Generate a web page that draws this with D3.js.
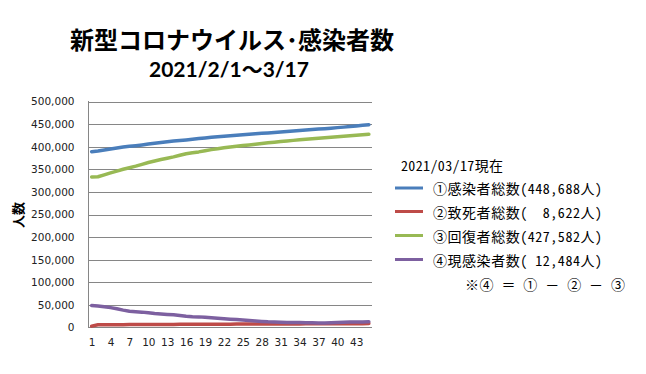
<!DOCTYPE html>
<html><head><meta charset="utf-8">
<script src="https://cdn.jsdelivr.net/npm/d3@7"></script>
<style>body{margin:0;background:#fff}</style>
</head><body><svg id="c" width="646" height="374"></svg>
<script>
const titleLine1 = "新型コロナウイルス･感染者数";
const titleLine2 = "2021/2/1～3/17";
const yAxisTitle = "人数";
const categories = [1,2,3,4,5,6,7,8,9,10,11,12,13,14,15,16,17,18,19,20,21,22,23,24,25,26,27,28,29,30,31,32,33,34,35,36,37,38,39,40,41,42,43,44,45];
const xTickLabels = [1,4,7,10,13,16,19,22,25,28,31,34,37,40,43];
const yTicks = [0,50000,100000,150000,200000,250000,300000,350000,400000,450000,500000];
const seriesNames = ["①感染者総数(448,688人)", "②致死者総数(  8,622人)", "③回復者総数(427,582人)", "④現感染者数( 12,484人)"];
const seriesColors = ["#4A7EBB", "#BE4B48", "#98B954", "#7D60A0"];
const totalCases = [389000,390500,392600,394900,397100,399100,400800,402300,404000,405800,407500,409300,411000,412400,413600,415000,416600,418000,419400,420800,422100,423200,424100,425300,426500,427600,428700,429600,430400,431300,432400,433500,434600,435800,437000,438000,438900,439900,441000,442200,443300,444600,446000,447400,448688];
const deaths = [3000,5900,6000,6100,6200,6290,6380,6470,6550,6620,6700,6770,6840,6910,6980,7050,7110,7170,7230,7290,7340,7390,7440,7490,7540,7590,7640,7690,7740,7790,7840,7890,7940,7990,8040,8090,8140,8190,8240,8290,8340,8400,8460,8540,8622];
const recovered = [333000,333600,337800,342000,346000,350000,353500,357000,361000,365000,368500,371500,374500,377500,381000,384500,386500,388500,391000,393500,395500,397500,399500,401000,402500,404000,405500,407000,408500,410000,411500,412800,414000,415200,416400,417500,418600,419700,420800,421900,423000,424000,425200,426400,427582];
const active = [48700,47500,46000,44000,41500,38500,36000,35000,34000,32500,31000,30000,29000,28000,26500,25000,24000,23500,22500,21500,20500,19500,18500,17500,16500,15500,14500,13500,12500,12000,11500,11200,11000,10800,10600,10400,10200,10200,10500,11000,11500,12000,12200,12400,12484];
const legendHeader = "2021/03/17現在";
const legendNote = "※④ ＝ ① － ② － ③";

const seriesData = [totalCases, deaths, recovered, active];
const svg = d3.select("#c");
svg.append("rect").attr("width",646).attr("height",374).attr("fill","#fff");

const x = d3.scalePoint().domain(categories).range([88.5, 372]).padding(0.5);
const y = d3.scaleLinear().domain([0, 500000]).range([327.5, 101.5]);

// gridlines
svg.append("g").selectAll("line").data(yTicks.filter(d => d > 0)).join("line")
  .attr("x1", 88.5).attr("x2", 372).attr("y1", d => Math.round(y(d)) + 0.5).attr("y2", d => Math.round(y(d)) + 0.5)
  .attr("stroke", "#868686").attr("stroke-width", 1);
// axes lines
svg.append("line").attr("x1",88.5).attr("x2",88.5).attr("y1",101).attr("y2",328).attr("stroke","#868686");
svg.append("line").attr("x1",88).attr("x2",372).attr("y1",327.5).attr("y2",327.5).attr("stroke","#868686");

// y labels
const yAxis = d3.axisLeft(y).tickValues(yTicks).tickFormat(d3.format(",")).tickSize(0).tickPadding(14);
const gy = svg.append("g").attr("transform","translate(88.5,0)").call(yAxis);
gy.select(".domain").remove();
gy.selectAll("text").attr("font-family","DejaVu Sans").attr("font-size","10.5px").attr("fill","#222");

// x labels
const xAxis = d3.axisBottom(x).tickValues(xTickLabels).tickSize(0).tickPadding(11);
const gx = svg.append("g").attr("transform","translate(0,327.5)").call(xAxis);
gx.select(".domain").remove();
gx.selectAll("text").attr("font-family","DejaVu Sans").attr("font-size","10.5px").attr("fill","#222");

// lines
const line = d3.line().x((d,i) => x(categories[i])).y(d => y(d)).curve(d3.curveLinear);
svg.append("g").selectAll("path").data(seriesData).join("path")
  .attr("d", line).attr("fill","none")
  .attr("stroke", (d,i) => seriesColors[i]).attr("stroke-width", 3.5)
  .attr("stroke-linejoin","round").attr("stroke-linecap","round");

// title
svg.append("text").attr("x", 232).attr("y", 38.5).attr("text-anchor","middle").attr("dominant-baseline","central")
  .attr("font-family","'Noto Sans CJK JP'").attr("font-weight","bold").attr("font-size","24px").attr("fill","#000")
  .text(titleLine1);
svg.append("text").attr("x", 229).attr("y", 77).attr("text-anchor","middle")
  .attr("font-family","Lato,'Noto Sans CJK JP'").attr("font-weight","bold").attr("font-size","21px").attr("fill","#000")
  .text(titleLine2);

// y axis title
svg.append("text").attr("transform","translate(17,215) rotate(-90)").attr("text-anchor","middle").attr("dominant-baseline","central")
  .attr("font-family","'Noto Sans CJK JP'").attr("font-weight","bold").attr("font-size","13px").attr("fill","#000")
  .text(yAxisTitle);

// legend
const lf = "'Noto Sans Mono CJK JP','Noto Sans CJK JP',monospace";
svg.append("text").attr("x", 401).attr("y", 165).attr("dominant-baseline","central")
  .attr("font-family", lf).attr("font-size","14px").attr("fill","#000")
  .attr("textLength", 102).attr("lengthAdjust","spacing").style("white-space","pre")
  .text(legendHeader);
const rowY = [188, 211.5, 235.5, 259.5];
const lg = svg.append("g");
seriesNames.forEach((name, i) => {
  lg.append("line").attr("x1", 395).attr("x2", 423).attr("y1", rowY[i]).attr("y2", rowY[i])
    .attr("stroke", seriesColors[i]).attr("stroke-width", 3);
  lg.append("text").attr("x", 433).attr("y", rowY[i]).attr("dominant-baseline","central")
    .attr("font-family", lf).attr("font-size","14px").attr("fill","#000")
    .attr("textLength", 169).attr("lengthAdjust","spacing").style("white-space","pre")
    .text(name);
});
svg.append("text").attr("x", 465).attr("y", 284).attr("dominant-baseline","central")
  .attr("font-family", lf).attr("font-size","14px").attr("fill","#000")
  .attr("textLength", 160).attr("lengthAdjust","spacing").style("white-space","pre")
  .text(legendNote);
</script></body></html>
